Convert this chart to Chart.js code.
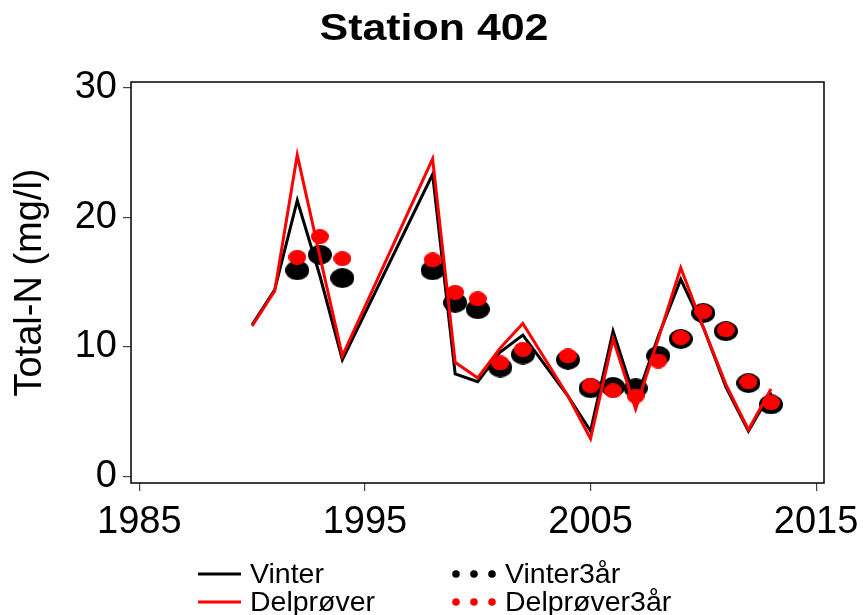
<!DOCTYPE html>
<html>
<head>
<meta charset="utf-8">
<script src="https://cdn.jsdelivr.net/npm/chart.js@4/dist/chart.umd.min.js"></script>
<style>
  html, body { margin: 0; padding: 0; background: #fff; }
  #wrap { width: 863px; height: 615px; }
</style>
</head>
<body>
<div id="wrap"><canvas id="c" width="863" height="615"></canvas></div>
<script>
// Total-N winter samples, station 402
const years = [1990, 1991, 1992, 1993, 1994, 1998, 1999, 2000, 2001, 2002,
               2004, 2005, 2006, 2007, 2008, 2009, 2010, 2011, 2012, 2013];
const vinter = [11.7, 14.4, 21.3, 15.5, 9.0, 23.3, 7.9, 7.3, 9.6, 10.9,
                6.2, 3.5, 11.2, 5.8, 10.8, 15.2, 11.5, 6.9, 3.5, 6.5];
const delprover = [11.6, 14.3, 24.8, 17.0, 9.3, 24.5, 8.8, 7.6, 9.9, 11.8,
                   6.2, 2.9, 10.6, 5.2, 10.6, 16.1, 11.5, 7.1, 3.6, 6.75];

// Three-year means
const years3 = [1992, 1993, 1994, 1998, 1999, 2000, 2001, 2002, 2004,
                2005, 2006, 2007, 2008, 2009, 2010, 2011, 2012, 2013];
const vinter3 = [15.9, 17.1, 15.3, 15.9, 13.4, 12.9, 8.4, 9.4, 9.0,
                 6.8, 6.9, 6.8, 9.3, 10.6, 12.6, 11.2, 7.2, 5.55];
const delprover3 = [16.9, 18.5, 16.8, 16.7, 14.2, 13.7, 8.75, 9.8, 9.3,
                    7.0, 6.6, 6.2, 8.9, 10.7, 12.7, 11.3, 7.3, 5.7];

const xTicks = [1985, 1995, 2005, 2015];
const yTicks = [0, 10, 20, 30];
const chartTitle = 'Station 402';

const FONT = '"Liberation Sans", Arial, Helvetica, sans-serif';

function pairs(xs, ys) { return xs.map((x, i) => ({ x: x, y: ys[i] })); }

// Filled ellipse used as marker image
function ellipseMarker(w, h, color) {
  const cv = document.createElement('canvas');
  cv.width = w; cv.height = h;
  const g = cv.getContext('2d');
  g.fillStyle = color;
  g.beginPath();
  g.ellipse(w / 2, h / 2, w / 2, h / 2, 0, 0, Math.PI * 2);
  g.fill();
  return cv;
}
const blackMark = ellipseMarker(24, 20, '#000000');
const redMark = ellipseMarker(18, 15, '#ff0000');

// Heading, slightly widened bold face
const headingPlugin = {
  id: 'heading',
  afterDraw(chart) {
    const ctx = chart.ctx;
    ctx.save();
    ctx.font = 'bold 37px ' + FONT;
    ctx.fillStyle = '#000';
    ctx.textAlign = 'center';
    ctx.textBaseline = 'alphabetic';
    ctx.translate(434, 39.5);
    ctx.scale(1.16, 1);
    ctx.fillText(chartTitle, 0, 0);
    ctx.restore();
  }
};

// Frame around the plotting region
const framePlugin = {
  id: 'frame',
  afterDraw(chart) {
    const a = chart.chartArea, ctx = chart.ctx;
    ctx.save();
    ctx.strokeStyle = '#000';
    ctx.lineWidth = 1.5;
    ctx.strokeRect(a.left, a.top, a.right - a.left, a.bottom - a.top);
    ctx.restore();
  }
};

// Two-column key below the axis
const keyPlugin = {
  id: 'key',
  afterDraw(chart) {
    const ctx = chart.ctx;
    const ds = chart.data.datasets;
    const rows = [574, 602];
    ctx.save();
    ctx.font = '28.5px ' + FONT;
    ctx.textBaseline = 'middle';
    ctx.textAlign = 'left';
    const lineSets = [ds[0], ds[1]];
    const dotSets = [ds[2], ds[3]];
    lineSets.forEach((d, i) => {
      const y = rows[i];
      ctx.strokeStyle = d.borderColor;
      ctx.lineWidth = 3;
      ctx.beginPath();
      ctx.moveTo(198, y);
      ctx.lineTo(241, y);
      ctx.stroke();
      ctx.fillStyle = '#000';
      ctx.fillText(d.label, 250, y + 1);
    });
    dotSets.forEach((d, i) => {
      const y = rows[i];
      ctx.fillStyle = d.keyColor;
      [456, 474, 492].forEach(x => {
        ctx.beginPath();
        ctx.arc(x, y, 3.8, 0, Math.PI * 2);
        ctx.fill();
      });
      ctx.fillStyle = '#000';
      ctx.fillText(d.label, 505, y + 1);
    });
    ctx.restore();
  }
};

new Chart(document.getElementById('c'), {
  type: 'line',
  data: {
    datasets: [
      { label: 'Vinter', data: pairs(years, vinter), borderColor: '#000000',
        borderWidth: 3, pointRadius: 0, tension: 0, order: 3 },
      { label: 'Delprøver', data: pairs(years, delprover), borderColor: '#ff0000',
        borderWidth: 3, pointRadius: 0, tension: 0, order: 1 },
      { label: 'Vinter3år', data: pairs(years3, vinter3), showLine: false,
        pointStyle: blackMark, pointRadius: 10, keyColor: '#000000', order: 2 },
      { label: 'Delprøver3år', data: pairs(years3, delprover3), showLine: false,
        pointStyle: redMark, pointRadius: 8, keyColor: '#ff0000', order: 0 }
    ]
  },
  options: {
    responsive: false,
    animation: false,
    devicePixelRatio: 1,
    layout: { padding: { left: 0, right: 39, top: 82, bottom: 0 } },
    plugins: {
      legend: { display: false },
      tooltip: { enabled: false },
      title: { display: false }
    },
    scales: {
      x: {
        type: 'linear',
        min: 1984.63,
        max: 2015.35,
        afterBuildTicks(s) { s.ticks = xTicks.map(v => ({ value: v })); },
        afterFit(s) { s.height = 132; s.paddingLeft = 0; s.paddingRight = 0; },
        grid: { drawOnChartArea: false, drawTicks: true, tickLength: 8, color: '#444', lineWidth: 1.2 },
        border: { display: false },
        ticks: { color: '#000', font: { family: FONT, size: 38 }, padding: 9, maxRotation: 0,
                 callback: v => String(v) }
      },
      y: {
        type: 'linear',
        min: -0.51,
        max: 30.43,
        afterBuildTicks(s) { s.ticks = yTicks.map(v => ({ value: v })); },
        afterFit(s) { s.width = 131; s.paddingTop = 0; s.paddingBottom = 0; },
        grid: { drawOnChartArea: false, drawTicks: true, tickLength: 8, color: '#444', lineWidth: 1.2 },
        border: { display: false },
        ticks: { color: '#000', font: { family: FONT, size: 38 }, padding: 6,
                 callback: v => String(v) },
        title: {
          display: true,
          text: 'Total-N (mg/l)',
          color: '#000',
          font: { family: FONT, size: 38, lineHeight: 1.2 },
          padding: { top: 8, bottom: 0 }
        }
      }
    }
  },
  plugins: [headingPlugin, framePlugin, keyPlugin]
});
</script>
</body>
</html>
